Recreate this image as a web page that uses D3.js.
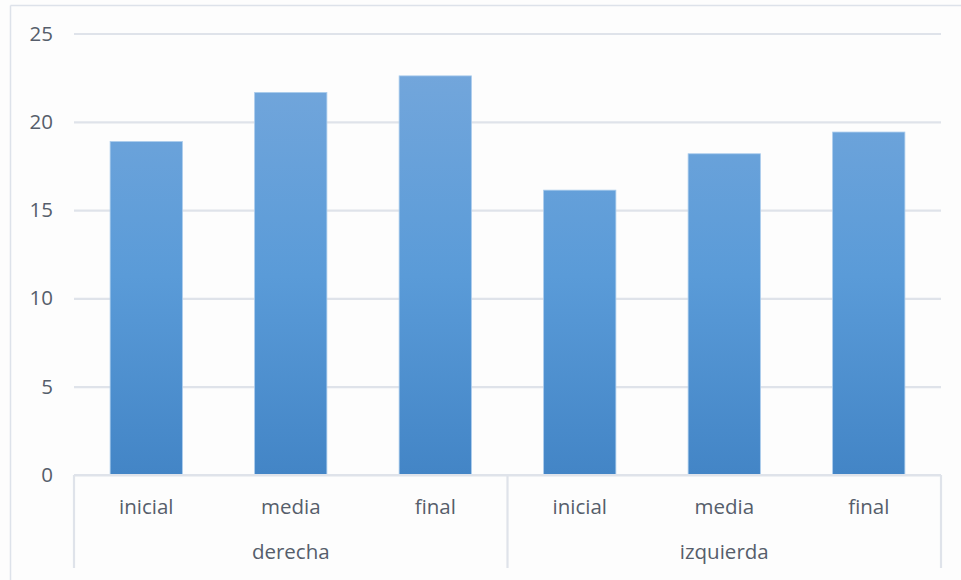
<!DOCTYPE html>
<html>
<head>
<meta charset="utf-8">
<script src="https://cdn.jsdelivr.net/npm/d3@7"></script>
<style>
  html, body { margin: 0; padding: 0; background: #fdfdfd; }
  svg { display: block; }
  text { font-family: "Open Sans", "Liberation Sans", sans-serif; fill: #565e6b; }
</style>
</head>
<body>
<svg id="chart" width="961" height="580"></svg>
<script>
// Two-level categories: side (group) and moment (category)
const groups = ["derecha", "izquierda"];
const moments = ["inicial", "media", "final"];
const valuesDerecha = [18.88, 21.66, 22.6];
const valuesIzquierda = [16.13, 18.19, 19.42];
const yTicks = [0, 5, 10, 15, 20, 25];

const rows = [];
groups.forEach((g, gi) => {
  const vals = gi === 0 ? valuesDerecha : valuesIzquierda;
  moments.forEach((m, mi) => rows.push({ group: g, moment: m, key: g + "|" + m, value: vals[mi] }));
});

const svg = d3.select("#chart");
const W = 961, H = 580;
const plot = { left: 74, right: 941, top: 33.5, bottom: 475 };
const fontSize = 20.5;

// chart area border (top and left edges show)
svg.append("line").attr("x1", 10.5).attr("x2", W).attr("y1", 5.5).attr("y2", 5.5)
  .attr("stroke", "#dde2ea").attr("stroke-width", 1.5);
svg.append("line").attr("x1", 10.5).attr("x2", 10.5).attr("y1", 5.5).attr("y2", H)
  .attr("stroke", "#dde2ea").attr("stroke-width", 1.5);

const x = d3.scaleBand().domain(rows.map(d => d.key))
  .range([plot.left, plot.right]).paddingInner(0.5).paddingOuter(0.25);
const y = d3.scaleLinear().domain([0, 25]).range([plot.bottom, plot.top]);

// gradient fill for bars
const defs = svg.append("defs");
const grad = defs.append("linearGradient").attr("id", "barGrad")
  .attr("gradientUnits", "userSpaceOnUse")
  .attr("x1", 0).attr("x2", 0)
  .attr("y1", plot.top).attr("y2", plot.bottom);
grad.append("stop").attr("offset", "0%").attr("stop-color", "#77a8dc");
grad.append("stop").attr("offset", "55%").attr("stop-color", "#5a9bd8");
grad.append("stop").attr("offset", "100%").attr("stop-color", "#4385c6");

// gridlines + y axis labels
const yAxis = d3.axisLeft(y).tickValues(yTicks).tickSize(-(plot.right - plot.left)).tickPadding(21);
const gy = svg.append("g").attr("transform", `translate(${plot.left},0)`).call(yAxis);
gy.select(".domain").remove();
gy.selectAll(".tick line").attr("stroke", "#dfe3ea").attr("stroke-width", 2.2);
gy.selectAll(".tick text").attr("font-size", fontSize).style("fill", "#565e6b")
  .style("font-family", "'Open Sans', 'Liberation Sans', sans-serif");

// bars
svg.append("g").selectAll("rect").data(rows).join("rect")
  .attr("x", d => x(d.key))
  .attr("y", d => y(d.value))
  .attr("width", x.bandwidth())
  .attr("height", d => y(0) - y(d.value))
  .attr("fill", "url(#barGrad)")
  .attr("stroke", "#a9cbec").attr("stroke-width", 0.8);

// x axis line
svg.append("line").attr("x1", plot.left).attr("x2", plot.right)
  .attr("y1", plot.bottom).attr("y2", plot.bottom)
  .attr("stroke", "#dfe3ea").attr("stroke-width", 2.2);

// category labels
svg.append("g").selectAll("text").data(rows).join("text")
  .attr("x", d => x(d.key) + x.bandwidth() / 2)
  .attr("y", 514)
  .attr("text-anchor", "middle").attr("font-size", fontSize)
  .text(d => d.moment);

// group dividers and group labels
const groupScale = d3.scaleBand().domain(groups).range([plot.left, plot.right]);
const dividers = [plot.left].concat(groups.map(g => groupScale(g) + groupScale.bandwidth()));
svg.append("g").selectAll("line").data(dividers).join("line")
  .attr("x1", d => d).attr("x2", d => d)
  .attr("y1", plot.bottom).attr("y2", 568)
  .attr("stroke", "#dfe3ea").attr("stroke-width", 2.2);
svg.append("g").selectAll("text").data(groups).join("text")
  .attr("x", g => groupScale(g) + groupScale.bandwidth() / 2)
  .attr("y", 559)
  .attr("text-anchor", "middle").attr("font-size", fontSize)
  .text(g => g);
</script>
</body>
</html>
